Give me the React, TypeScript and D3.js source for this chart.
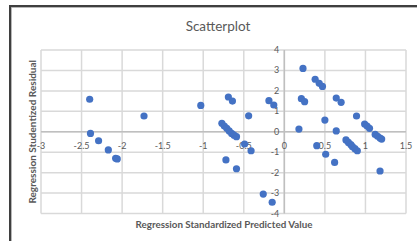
import React from "react";
import { scaleLinear, range } from "d3";

// Regression Standardized Predicted Value
const predicted = [
  -2.4, -1.73, -1.03, -0.69, -0.64, -0.44, -0.19, -0.13, 0.23, 0.21, 0.25, 0.38, 0.43, 0.47, 0.64, 0.7, 0.89,
  -2.39, -2.29, -2.17, -2.08, -2.06,
  -0.77, -0.74, -0.71, -0.68, -0.65, -0.62, -0.59,
  -0.49, -0.41, -0.72, -0.59, -0.26, -0.15,
  0.18, 0.4, 0.5, 0.51, 0.64, 0.62,
  0.76, 0.79, 0.82, 0.84, 0.87, 0.9,
  0.99, 1.02, 1.05,
  1.12, 1.15, 1.18, 1.2,
  1.18,
];

// Regression Studentized Residual
const residual = [
  1.59, 0.77, 1.29, 1.7, 1.5, 0.78, 1.52, 1.31, 3.1, 1.62, 1.47, 2.57, 2.37, 2.22, 1.65, 1.44, 0.77,
  -0.08, -0.44, -0.89, -1.3, -1.33,
  0.41, 0.28, 0.17, 0.04, -0.08, -0.17, -0.24,
  -0.6, -0.93, -1.38, -1.81, -3.05, -3.45,
  0.13, -0.68, 0.57, -1.1, 0.04, -1.5,
  -0.4, -0.52, -0.63, -0.73, -0.83, -0.93,
  0.38, 0.28, 0.17,
  -0.13, -0.22, -0.31, -0.36,
  -1.92,
];

const xTicks = range(-3, 1.51, 0.5);
const yTicks = range(-4, 4.01, 1);

const W = 417;
const H = 241;
const plot = { left: 41, right: 406, top: 50, bottom: 213.5 };
const gray = "#595959";
const grid = "#d9d9d9";
const font = "Lato, 'DejaVu Sans', sans-serif";

export default function App() {
  const x = scaleLinear().domain([-3, 1.5]).range([plot.left, plot.right]);
  const y = scaleLinear().domain([-4, 4]).range([plot.bottom, plot.top]);
  const fmt = (v: number) => String(Math.round(v * 10) / 10);

  return (
    <svg
      width={W}
      height={H}
      style={{ position: "absolute", left: 0, top: 0, background: "#fff" }}
      fontFamily={font}
    >
      {/* chart frame */}
      <rect x={10} y={6} width={420} height={250} fill="#fff" stroke="#3f3f3f" strokeWidth={2} />
      <rect x={11.5} y={7.5} width={420} height={250} fill="none" stroke="#a6a6a6" strokeWidth={0.8} />

      <text x={218} y={31} textAnchor="middle" fontSize={13.5} fill={gray}>
        Scatterplot
      </text>

      {/* grid */}
      {xTicks.map((t) => (
        <line key={`gx${t}`} x1={x(t)} x2={x(t)} y1={plot.top} y2={plot.bottom} stroke={grid} strokeWidth={1.5} />
      ))}
      {yTicks.map((t) => (
        <line key={`gy${t}`} x1={plot.left} x2={plot.right} y1={y(t)} y2={y(t)} stroke={grid} strokeWidth={1.5} />
      ))}

      {/* axes through zero */}
      <line x1={x(0)} x2={x(0)} y1={plot.top} y2={plot.bottom} stroke="#bfbfbf" strokeWidth={1.5} />
      <line x1={plot.left} x2={plot.right} y1={y(0)} y2={y(0)} stroke="#bfbfbf" strokeWidth={1.5} />

      {xTicks.map((t) => (
        <text key={`lx${t}`} x={x(t)} y={y(0) + 17} textAnchor="middle" fontSize={9} fill={gray}>
          {fmt(t)}
        </text>
      ))}
      {yTicks.map((t) => (
        <text key={`ly${t}`} x={x(0) - 5} y={y(t) + 3} textAnchor="end" fontSize={9} fill={gray}>
          {fmt(t)}
        </text>
      ))}

      {/* points */}
      {predicted.map((d, i) => (
        <circle key={i} cx={x(d)} cy={y(residual[i])} r={3.6} fill="#4472c4" />
      ))}

      <text x={224} y={228} textAnchor="middle" fontSize={9.8} fontWeight="bold" fill={gray}>
        Regression Standardized Predicted Value
      </text>
      <text
        transform={`translate(36, ${(plot.top + plot.bottom) / 2}) rotate(-90)`}
        textAnchor="middle"
        fontSize={10}
        fontWeight="bold"
        fill={gray}
      >
        Regression Studentized Residual
      </text>
    </svg>
  );
}
